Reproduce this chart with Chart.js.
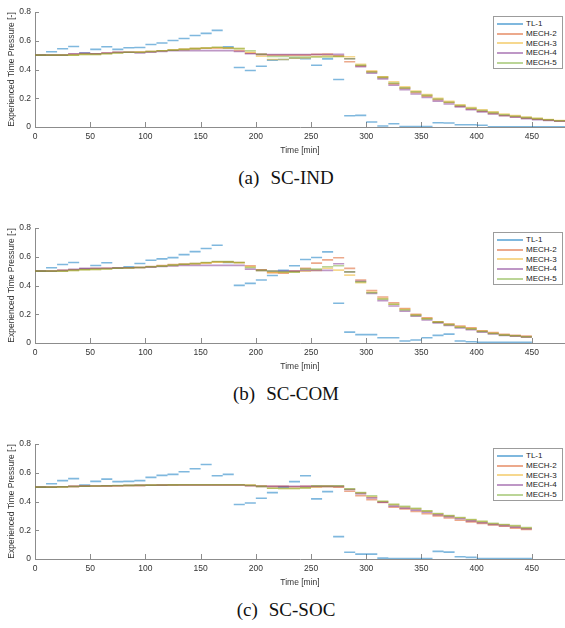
<!DOCTYPE html>
<html>
<head>
<meta charset="utf-8">
<script src="https://cdn.jsdelivr.net/npm/chart.js@4.4.1/dist/chart.umd.min.js"></script>
<style>
  body { margin: 0; background: #fff; }
  #page { position: relative; width: 565px; height: 628px; overflow: hidden; font-family: "Liberation Sans", Arial, sans-serif; }
  .panel { position: absolute; left: 0; }
  .legend { position: absolute; left: 493px; width: 70px; height: 53px; box-sizing: border-box; border: 1px solid #9c9c9c; background: #fff; padding-top: 2px; }
  .legend .row { display: flex; align-items: center; height: 9.7px; font-size: 8px; color: #222; }
  .legend .swatch { width: 26px; height: 2px; margin-left: 3px; margin-right: 3px; }
  .caption { position: absolute; left: 0; width: 572px; text-align: center; font-family: "Liberation Serif", "Times New Roman", serif; font-size: 19px; color: #111; line-height: 20px; }
  .caption span { margin-right: 11px; }
</style>
</head>
<body>
<div id="page">
  <canvas id="c1" class="panel" width="565" height="156" style="top:0px"></canvas>
  <div class="legend" id="lg1" style="top:16px"></div>
  <div class="caption" style="top:168px"><span>(a)</span>SC-IND</div>

  <canvas id="c2" class="panel" width="565" height="156" style="top:216px"></canvas>
  <div class="legend" id="lg2" style="top:232px"></div>
  <div class="caption" style="top:384px"><span>(b)</span>SC-COM</div>

  <canvas id="c3" class="panel" width="565" height="156" style="top:432px"></canvas>
  <div class="legend" id="lg3" style="top:448px"></div>
  <div class="caption" style="top:600px"><span>(c)</span>SC-SOC</div>
</div>

<script>
// series names and colours (matlab default order, half transparent)
const seriesNames = ["TL-1", "MECH-2", "MECH-3", "MECH-4", "MECH-5"];
const seriesColors = ["rgba(0,114,189,0.5)", "rgba(217,83,25,0.5)", "rgba(237,177,32,0.5)", "rgba(126,47,142,0.5)", "rgba(119,172,48,0.5)"];

// axis ticks
const xTicks = [0, 50, 100, 150, 200, 250, 300, 350, 400, 450];
const yTicks = [0, 0.2, 0.4, 0.6, 0.8];

// each value holds for one 10 min step starting at these times
const stepMin = 10;
const timesLong = [0,10,20,30,40,50,60,70,80,90,100,110,120,130,140,150,160,170,180,190,200,210,220,230,240,250,260,270,280,290,300,310,320,330,340,350,360,370,380,390,400,410,420,430,440,450,460,470];
const timesShort = timesLong.slice(0, 45);

// SC-IND
const indTL1   = [0.50,0.523,0.544,0.560,0.515,0.540,0.558,0.540,0.551,0.553,0.574,0.584,0.602,0.616,0.637,0.651,0.672,0.558,0.414,0.393,0.423,0.465,0.470,0.478,0.476,0.430,0.474,0.330,0.078,0.081,0.035,0.007,0.023,0.003,0.003,0.004,0.030,0.028,0.016,0.016,0.012,0.002,0.002,0.002,0.002,0.002,0.002,0.002];
const indMECH2 = [0.50,0.50,0.50,0.505,0.51,0.51,0.515,0.52,0.52,0.522,0.525,0.53,0.535,0.54,0.545,0.548,0.55,0.55,0.53,0.513,0.505,0.50,0.50,0.50,0.50,0.505,0.508,0.495,0.454,0.425,0.385,0.345,0.30,0.27,0.24,0.215,0.19,0.17,0.145,0.125,0.11,0.095,0.08,0.072,0.062,0.055,0.048,0.042];
const indMECH3 = [0.50,0.50,0.50,0.50,0.505,0.505,0.51,0.515,0.52,0.52,0.525,0.53,0.535,0.54,0.545,0.55,0.552,0.55,0.545,0.52,0.492,0.47,0.47,0.478,0.48,0.49,0.495,0.49,0.489,0.436,0.39,0.35,0.315,0.28,0.25,0.225,0.20,0.178,0.155,0.135,0.12,0.105,0.09,0.08,0.07,0.06,0.052,0.045];
const indMECH4 = [0.50,0.50,0.50,0.51,0.515,0.51,0.515,0.52,0.52,0.515,0.52,0.525,0.53,0.53,0.531,0.531,0.531,0.531,0.525,0.51,0.505,0.504,0.504,0.504,0.504,0.504,0.504,0.505,0.475,0.42,0.375,0.335,0.29,0.26,0.23,0.205,0.18,0.16,0.14,0.12,0.105,0.09,0.078,0.068,0.058,0.05,0.045,0.04];
const indMECH5 = [0.50,0.50,0.50,0.50,0.505,0.505,0.51,0.515,0.52,0.52,0.525,0.53,0.535,0.54,0.545,0.55,0.555,0.55,0.545,0.53,0.506,0.49,0.49,0.487,0.487,0.487,0.487,0.49,0.475,0.43,0.383,0.345,0.305,0.272,0.245,0.22,0.195,0.172,0.15,0.13,0.115,0.10,0.085,0.075,0.065,0.058,0.05,0.043];

// SC-COM
const comTL1   = [0.50,0.523,0.546,0.560,0.515,0.539,0.558,0.522,0.530,0.553,0.576,0.585,0.594,0.615,0.636,0.657,0.680,0.560,0.401,0.415,0.438,0.470,0.505,0.537,0.581,0.595,0.634,0.277,0.076,0.058,0.058,0.037,0.037,0.014,0.021,0.037,0.053,0.062,0.014,0.009,0.005,0.005,0.005,0.005,0.005];
const comMECH2 = [0.50,0.50,0.505,0.51,0.515,0.518,0.52,0.522,0.524,0.525,0.532,0.539,0.546,0.549,0.553,0.558,0.565,0.565,0.56,0.537,0.51,0.489,0.486,0.50,0.519,0.556,0.578,0.593,0.519,0.438,0.365,0.32,0.28,0.24,0.20,0.175,0.148,0.132,0.118,0.105,0.085,0.072,0.06,0.053,0.048];
const comMECH3 = [0.50,0.50,0.50,0.505,0.51,0.512,0.515,0.52,0.522,0.525,0.53,0.535,0.54,0.546,0.55,0.556,0.562,0.562,0.558,0.53,0.505,0.49,0.49,0.495,0.50,0.505,0.52,0.507,0.472,0.42,0.355,0.31,0.27,0.235,0.195,0.17,0.145,0.128,0.112,0.10,0.082,0.068,0.056,0.05,0.042];
const comMECH4 = [0.50,0.50,0.505,0.512,0.52,0.52,0.52,0.522,0.523,0.525,0.528,0.532,0.536,0.54,0.54,0.54,0.54,0.54,0.54,0.514,0.505,0.50,0.50,0.50,0.505,0.505,0.505,0.551,0.495,0.43,0.345,0.295,0.257,0.222,0.187,0.16,0.14,0.122,0.104,0.092,0.076,0.063,0.052,0.047,0.04];
const comMECH5 = [0.50,0.50,0.50,0.505,0.51,0.512,0.515,0.52,0.522,0.525,0.53,0.535,0.542,0.548,0.553,0.56,0.567,0.567,0.56,0.525,0.505,0.50,0.495,0.493,0.514,0.514,0.53,0.537,0.495,0.425,0.35,0.305,0.27,0.23,0.192,0.168,0.145,0.128,0.11,0.098,0.08,0.066,0.055,0.05,0.044];

// SC-SOC
const socTL1   = [0.50,0.524,0.545,0.559,0.515,0.540,0.556,0.538,0.540,0.545,0.568,0.582,0.589,0.607,0.628,0.657,0.579,0.589,0.379,0.390,0.423,0.462,0.500,0.538,0.579,0.418,0.469,0.156,0.047,0.034,0.034,0.006,0.004,0.004,0.004,0.004,0.053,0.048,0.016,0.011,0.004,0.004,0.004,0.004,0.004];
const socMECH2 = [0.50,0.50,0.503,0.505,0.507,0.508,0.509,0.51,0.511,0.512,0.513,0.514,0.515,0.515,0.515,0.515,0.515,0.515,0.515,0.512,0.508,0.505,0.505,0.503,0.505,0.505,0.505,0.50,0.471,0.441,0.413,0.393,0.36,0.348,0.33,0.315,0.30,0.285,0.27,0.258,0.248,0.237,0.228,0.215,0.205];
const socMECH3 = [0.50,0.50,0.502,0.504,0.506,0.508,0.509,0.51,0.511,0.512,0.514,0.515,0.516,0.517,0.517,0.517,0.517,0.517,0.517,0.512,0.505,0.492,0.49,0.49,0.495,0.50,0.505,0.505,0.485,0.46,0.432,0.40,0.378,0.362,0.35,0.333,0.314,0.30,0.287,0.272,0.26,0.245,0.238,0.23,0.215];
const socMECH4 = [0.50,0.50,0.503,0.505,0.507,0.508,0.509,0.51,0.511,0.512,0.513,0.514,0.515,0.515,0.515,0.515,0.515,0.515,0.515,0.51,0.505,0.505,0.505,0.505,0.505,0.505,0.505,0.505,0.483,0.455,0.425,0.395,0.368,0.354,0.34,0.325,0.308,0.295,0.28,0.265,0.252,0.24,0.232,0.222,0.21];
const socMECH5 = [0.50,0.50,0.502,0.504,0.506,0.508,0.51,0.511,0.512,0.513,0.514,0.515,0.516,0.517,0.517,0.517,0.517,0.517,0.517,0.513,0.505,0.492,0.49,0.49,0.495,0.51,0.508,0.51,0.488,0.462,0.44,0.402,0.38,0.366,0.352,0.335,0.317,0.302,0.289,0.275,0.262,0.248,0.24,0.232,0.218];

const axisGrey = "#8c8c8c";
const labelColor = "#333";
const tickFont = { family: "'Liberation Sans', Arial, sans-serif", size: 8.5 };

// each step as its own flat piece, broken by a null point
function stepPieces(times, vals) {
  const pts = [];
  vals.forEach((v, i) => {
    pts.push({ x: times[i], y: v });
    pts.push({ x: times[i] + stepMin, y: v });
    pts.push({ x: times[i] + stepMin, y: null });
  });
  return pts;
}

// matlab style ticks pointing into the plot
const innerTicks = {
  id: "innerTicks",
  beforeDatasetsDraw(chart) {
    const { ctx, chartArea: a, scales: { x, y } } = chart;
    ctx.save();
    ctx.strokeStyle = axisGrey;
    ctx.lineWidth = 1;
    ctx.beginPath();
    x.ticks.forEach(t => {
      const px = Math.round(x.getPixelForValue(t.value)) + 0.5;
      ctx.moveTo(px, a.bottom);
      ctx.lineTo(px, a.bottom - 5);
    });
    y.ticks.forEach(t => {
      const py = Math.round(y.getPixelForValue(t.value)) + 0.5;
      ctx.moveTo(a.left, py);
      ctx.lineTo(a.left + 4, py);
    });
    ctx.stroke();
    ctx.restore();
  }
};

function makePanel(canvasId, legendId, times, seriesVals) {
  const datasets = seriesVals.map((vals, i) => ({
    label: seriesNames[i],
    data: stepPieces(times, vals),
    borderColor: seriesColors[i],
    backgroundColor: seriesColors[i],
    borderWidth: 1.6,
    pointRadius: 0,
    tension: 0,
    spanGaps: false,
    fill: false,
    order: seriesNames.length - i // later series drawn on top
  }));

  new Chart(document.getElementById(canvasId), {
    type: "line",
    data: { datasets },
    options: {
      responsive: false,
      animation: false,
      devicePixelRatio: 1,
      layout: { padding: { top: 12, right: 0, bottom: 0, left: 0 } },
      plugins: { legend: { display: false }, tooltip: { enabled: false } },
      scales: {
        x: {
          type: "linear",
          min: 0,
          max: 480,
          afterBuildTicks: s => { s.ticks = xTicks.map(v => ({ value: v })); },
          afterFit: s => { s.height = 29; },
          grid: { display: false, drawTicks: false },
          border: { display: true, color: axisGrey, width: 1 },
          ticks: { color: labelColor, font: tickFont, padding: 5, maxRotation: 0 },
          title: { display: true, text: "Time [min]", color: labelColor, font: tickFont, padding: 0 }
        },
        y: {
          min: 0,
          max: 0.8,
          afterBuildTicks: s => { s.ticks = yTicks.map(v => ({ value: v })); },
          afterFit: s => { s.width = 35; },
          grid: { display: false, drawTicks: false },
          border: { display: true, color: axisGrey, width: 1 },
          ticks: { color: labelColor, font: tickFont, padding: 4, callback: v => String(v) },
          title: { display: true, text: "Experienced Time Pressure [-]", color: labelColor, font: tickFont, padding: { top: 7, bottom: 0 } }
        }
      }
    },
    plugins: [innerTicks]
  });

  // boxed legend in the top right corner
  const lg = document.getElementById(legendId);
  seriesNames.forEach((name, i) => {
    const row = document.createElement("div");
    row.className = "row";
    row.innerHTML = `<span class="swatch" style="background:${seriesColors[i]}"></span><span>${name}</span>`;
    lg.appendChild(row);
  });
}

makePanel("c1", "lg1", timesLong, [indTL1, indMECH2, indMECH3, indMECH4, indMECH5]);
makePanel("c2", "lg2", timesShort, [comTL1, comMECH2, comMECH3, comMECH4, comMECH5]);
makePanel("c3", "lg3", timesShort, [socTL1, socMECH2, socMECH3, socMECH4, socMECH5]);
</script>
</body>
</html>
